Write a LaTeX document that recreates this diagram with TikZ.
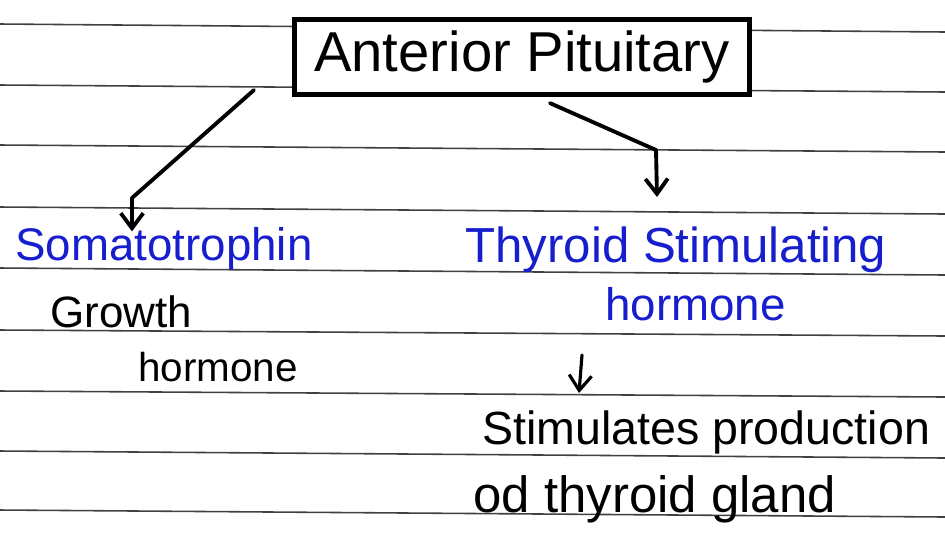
\documentclass[tikz,border=0pt]{standalone}
\usepackage{fontspec}
\setmainfont{Liberation Sans}
\usetikzlibrary{arrows.meta}
\definecolor{penblue}{RGB}{22,30,205}
\begin{document}
\begin{tikzpicture}[x=0.02cm, y=-0.02cm,
            rule/.style={black!75, line width=0.9pt},
            title/.style={draw, line width=3pt, minimum width=9.1cm, minimum height=1.5cm, inner sep=0pt, font=\fontsize{32}{36}\selectfont},
            blue/.style={anchor=west, inner sep=0pt, text=penblue, font=\fontsize{#1}{30}\selectfont},
            ink/.style={anchor=west, inner sep=0pt, font=\fontsize{#1}{30}\selectfont},
            arr/.style={-{Straight Barb[length=3mm, width=4.5mm]}, line width=2.2pt, line join=round, line cap=round}
            ]
            \useasboundingbox (0,0) rectangle (945,552);
            % notebook lines
            \foreach \l/\r in {24/32, 85/92, 145/152, 207/214, 268/275, 330/336, 391/397, 451/458, 510/517}
                \draw[rule] (0,\l) -- (945,\r);

            \node[title, fill=white] (ap) at (522,57) {Anterior Pituitary};

            \node[blue=26] (som) at (15,249) {Somatotrophin};
            \node[ink=25] (gro) at (50,312) {Growth};
            \node[ink=23] (ghorm) at (138,367) {hormone};

            \node[blue=28] (tsh) at (465,250) {Thyroid Stimulating};
            \node[blue=26] (thorm) at (605,304) {hormone};
            \node[ink=26.5] (stim) at (482,432) {Stimulates production};
            \node[ink=29] (gland) at (473,499) {od thyroid gland};

            \coordinate (ls) at (254,90);
            \coordinate (lc) at (132,198);
            \coordinate (rc) at (656,150);
            \coordinate (re) at (657,197);
            \coordinate (ss) at (582,355);
            \coordinate (se) at (579,393);

            \draw[arr] (ls) -- (lc) -- ([yshift=-0.08cm]som.north -| lc);
            \draw[arr] ([xshift=0.56cm, yshift=-0.12cm]ap.south) -- (rc) -- (re);
            \draw[arr, line width=1.8pt] (ss) -- (se);
            \end{tikzpicture}
\end{document}
